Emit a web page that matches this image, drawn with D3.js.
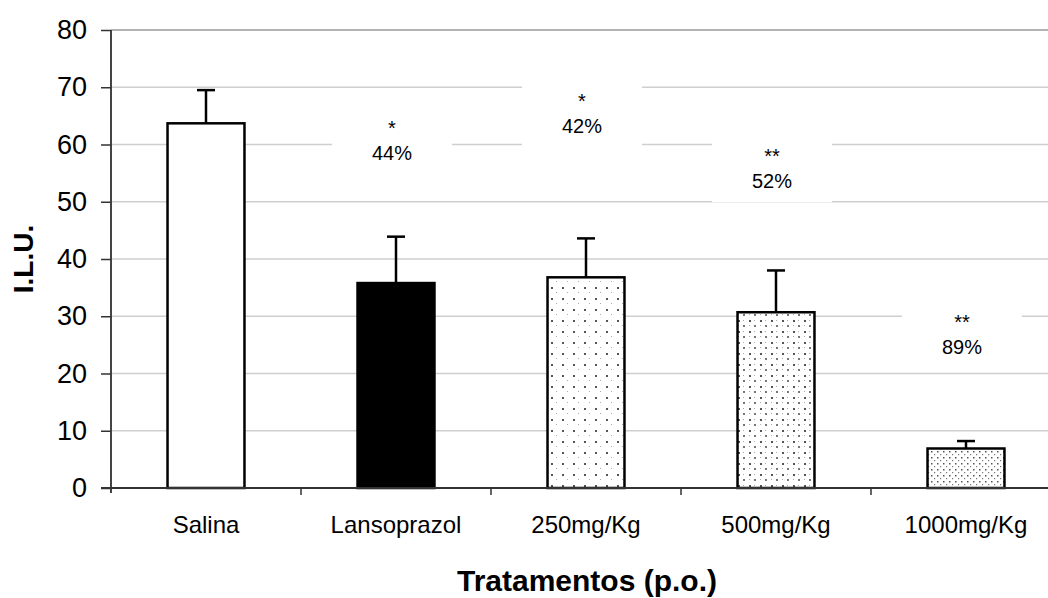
<!DOCTYPE html>
<html>
<head>
<meta charset="utf-8">
<script src="https://cdn.jsdelivr.net/npm/d3@7"></script>
<style>
  body { margin: 0; background: #fff; }
  svg { display: block; font-family: "Liberation Sans", Arial, sans-serif; }
</style>
</head>
<body>
<svg id="chart"></svg>
<script>
// data
const categories = ["Salina", "Lansoprazol", "250mg/Kg", "500mg/Kg", "1000mg/Kg"];
const means = [63.7, 35.8, 36.8, 30.7, 6.9];
const errors = [5.8, 8.1, 6.8, 7.3, 1.3];
const stars = ["", "*", "*", "**", "**"];
const inhibition = ["", "44%", "42%", "52%", "89%"];
const labelLevel = [null, 61.2, 65.9, 56.2, 27.2];   // where each label sits, in I.L.U.
const yTicks = [0, 10, 20, 30, 40, 50, 60, 70, 80];

const W = 1048, H = 598;
const margin = { top: 30, left: 111, bottom: 110 };
const plotBottom = H - margin.bottom;

const svg = d3.select("#chart").attr("width", W).attr("height", H);

// dot patterns for the dose bars
const defs = svg.append("defs");
function dots(id, size, list) {
    const p = defs.append("pattern")
        .attr("id", id)
        .attr("patternUnits", "userSpaceOnUse")
        .attr("width", size).attr("height", size);
    p.append("rect").attr("width", size).attr("height", size).attr("fill", "#fff");
    list.forEach(d => p.append("rect")
        .attr("x", d[0]).attr("y", d[1])
        .attr("width", d[2]).attr("height", d[2])
        .attr("fill", d[3]));
}
dots("p250", 11, [[1, 1, 2, "#555"], [6, 6, 1, "#aaa"]]);
dots("p500", 11, [[1, 1, 2, "#555"], [6, 6, 2, "#777"], [6, 1, 1, "#aaa"], [1, 6, 1, "#aaa"]]);
dots("p1000", 6, [[1, 1, 1.5, "#555"], [4, 4, 1.2, "#777"]]);

const fills = ["#fff", "#000", "url(#p250)", "url(#p500)", "url(#p1000)"];

const x = d3.scaleBand()
    .domain(categories)
    .range([margin.left, margin.left + 5 * 190])
    .padding(0);

const y = d3.scaleLinear()
    .domain([0, 80])
    .range([plotBottom, margin.top]);

// gridlines
svg.append("g")
   .selectAll("line")
   .data(yTicks.filter(d => d > 0))
   .enter().append("line")
   .attr("x1", margin.left).attr("x2", W)
   .attr("y1", d => y(d)).attr("y2", d => y(d))
   .attr("stroke", d => d === 80 ? "#9a9a9a" : "#cfcfcf")
   .attr("stroke-width", 1.5);

// label boxes hide the gridlines behind them
const labelData = categories.map((c, i) => ({ c, i })).filter(d => labelLevel[d.i] !== null);
const labels = svg.append("g").selectAll("g")
    .data(labelData)
    .enter().append("g")
    .attr("transform", d => `translate(${x(d.c) + x.bandwidth() / 2 - 4},${y(labelLevel[d.i])})`);

labels.append("rect")
    .attr("x", -60).attr("y", -36)
    .attr("width", 120).attr("height", 72)
    .attr("fill", "#fff");

labels.append("text")
    .attr("text-anchor", "middle")
    .attr("y", -3)
    .style("font-size", "20px")
    .text(d => stars[d.i]);

labels.append("text")
    .attr("text-anchor", "middle")
    .attr("y", 22)
    .style("font-size", "20px")
    .text(d => inhibition[d.i]);

// bars
const barW = x.bandwidth() * 0.405;
svg.append("g")
   .selectAll("rect")
   .data(categories)
   .enter().append("rect")
   .attr("x", d => x(d) + x.bandwidth() / 2 - barW / 2)
   .attr("y", (d, i) => y(means[i]))
   .attr("width", barW)
   .attr("height", (d, i) => y(0) - y(means[i]))
   .attr("fill", (d, i) => fills[i])
   .attr("stroke", "#000")
   .attr("stroke-width", 2.5);

// error bars (upper only)
const err = svg.append("g").attr("stroke", "#000").attr("stroke-width", 2.5);
categories.forEach((c, i) => {
    const cx = x(c) + x.bandwidth() / 2;
    err.append("line")
       .attr("x1", cx).attr("x2", cx)
       .attr("y1", y(means[i])).attr("y2", y(means[i] + errors[i]));
    err.append("line")
       .attr("x1", cx - 9).attr("x2", cx + 9)
       .attr("y1", y(means[i] + errors[i])).attr("y2", y(means[i] + errors[i]));
});

// y axis
const yAxis = svg.append("g")
    .attr("transform", `translate(${margin.left},0)`)
    .call(d3.axisLeft(y).tickValues(yTicks).tickSize(10).tickPadding(14));
yAxis.select(".domain").attr("stroke", "#444").attr("stroke-width", 2)
     .attr("d", `M0,${margin.top}V${plotBottom + 5}`);
yAxis.selectAll(".tick line").attr("stroke", "#333").attr("stroke-width", 1.5);
yAxis.selectAll("text").style("font-size", "27px").attr("fill", "#000");

// x axis
const xAxis = svg.append("g")
    .attr("transform", `translate(0,${plotBottom})`);
xAxis.append("line")
    .attr("x1", margin.left - 10).attr("x2", W)
    .attr("stroke", "#333").attr("stroke-width", 2);
xAxis.selectAll(".sep")
    .data(categories.slice(1))
    .enter().append("line")
    .attr("class", "sep")
    .attr("x1", d => x(d)).attr("x2", d => x(d))
    .attr("y1", 0).attr("y2", 7)
    .attr("stroke", "#333").attr("stroke-width", 1.5);
xAxis.selectAll(".lab")
    .data(categories)
    .enter().append("text")
    .attr("class", "lab")
    .attr("x", d => x(d) + x.bandwidth() / 2)
    .attr("y", 45)
    .attr("text-anchor", "middle")
    .style("font-size", "24px")
    .text(d => d);

// axis titles
svg.append("text")
   .attr("transform", `translate(33,${y(40)}) rotate(-90)`)
   .attr("text-anchor", "middle")
   .style("font-size", "28px")
   .style("font-weight", "bold")
   .text("I.L.U.");

svg.append("text")
   .attr("x", 587)
   .attr("y", 591)
   .attr("text-anchor", "middle")
   .style("font-size", "30px")
   .style("font-weight", "bold")
   .text("Tratamentos (p.o.)");
</script>
</body>
</html>
